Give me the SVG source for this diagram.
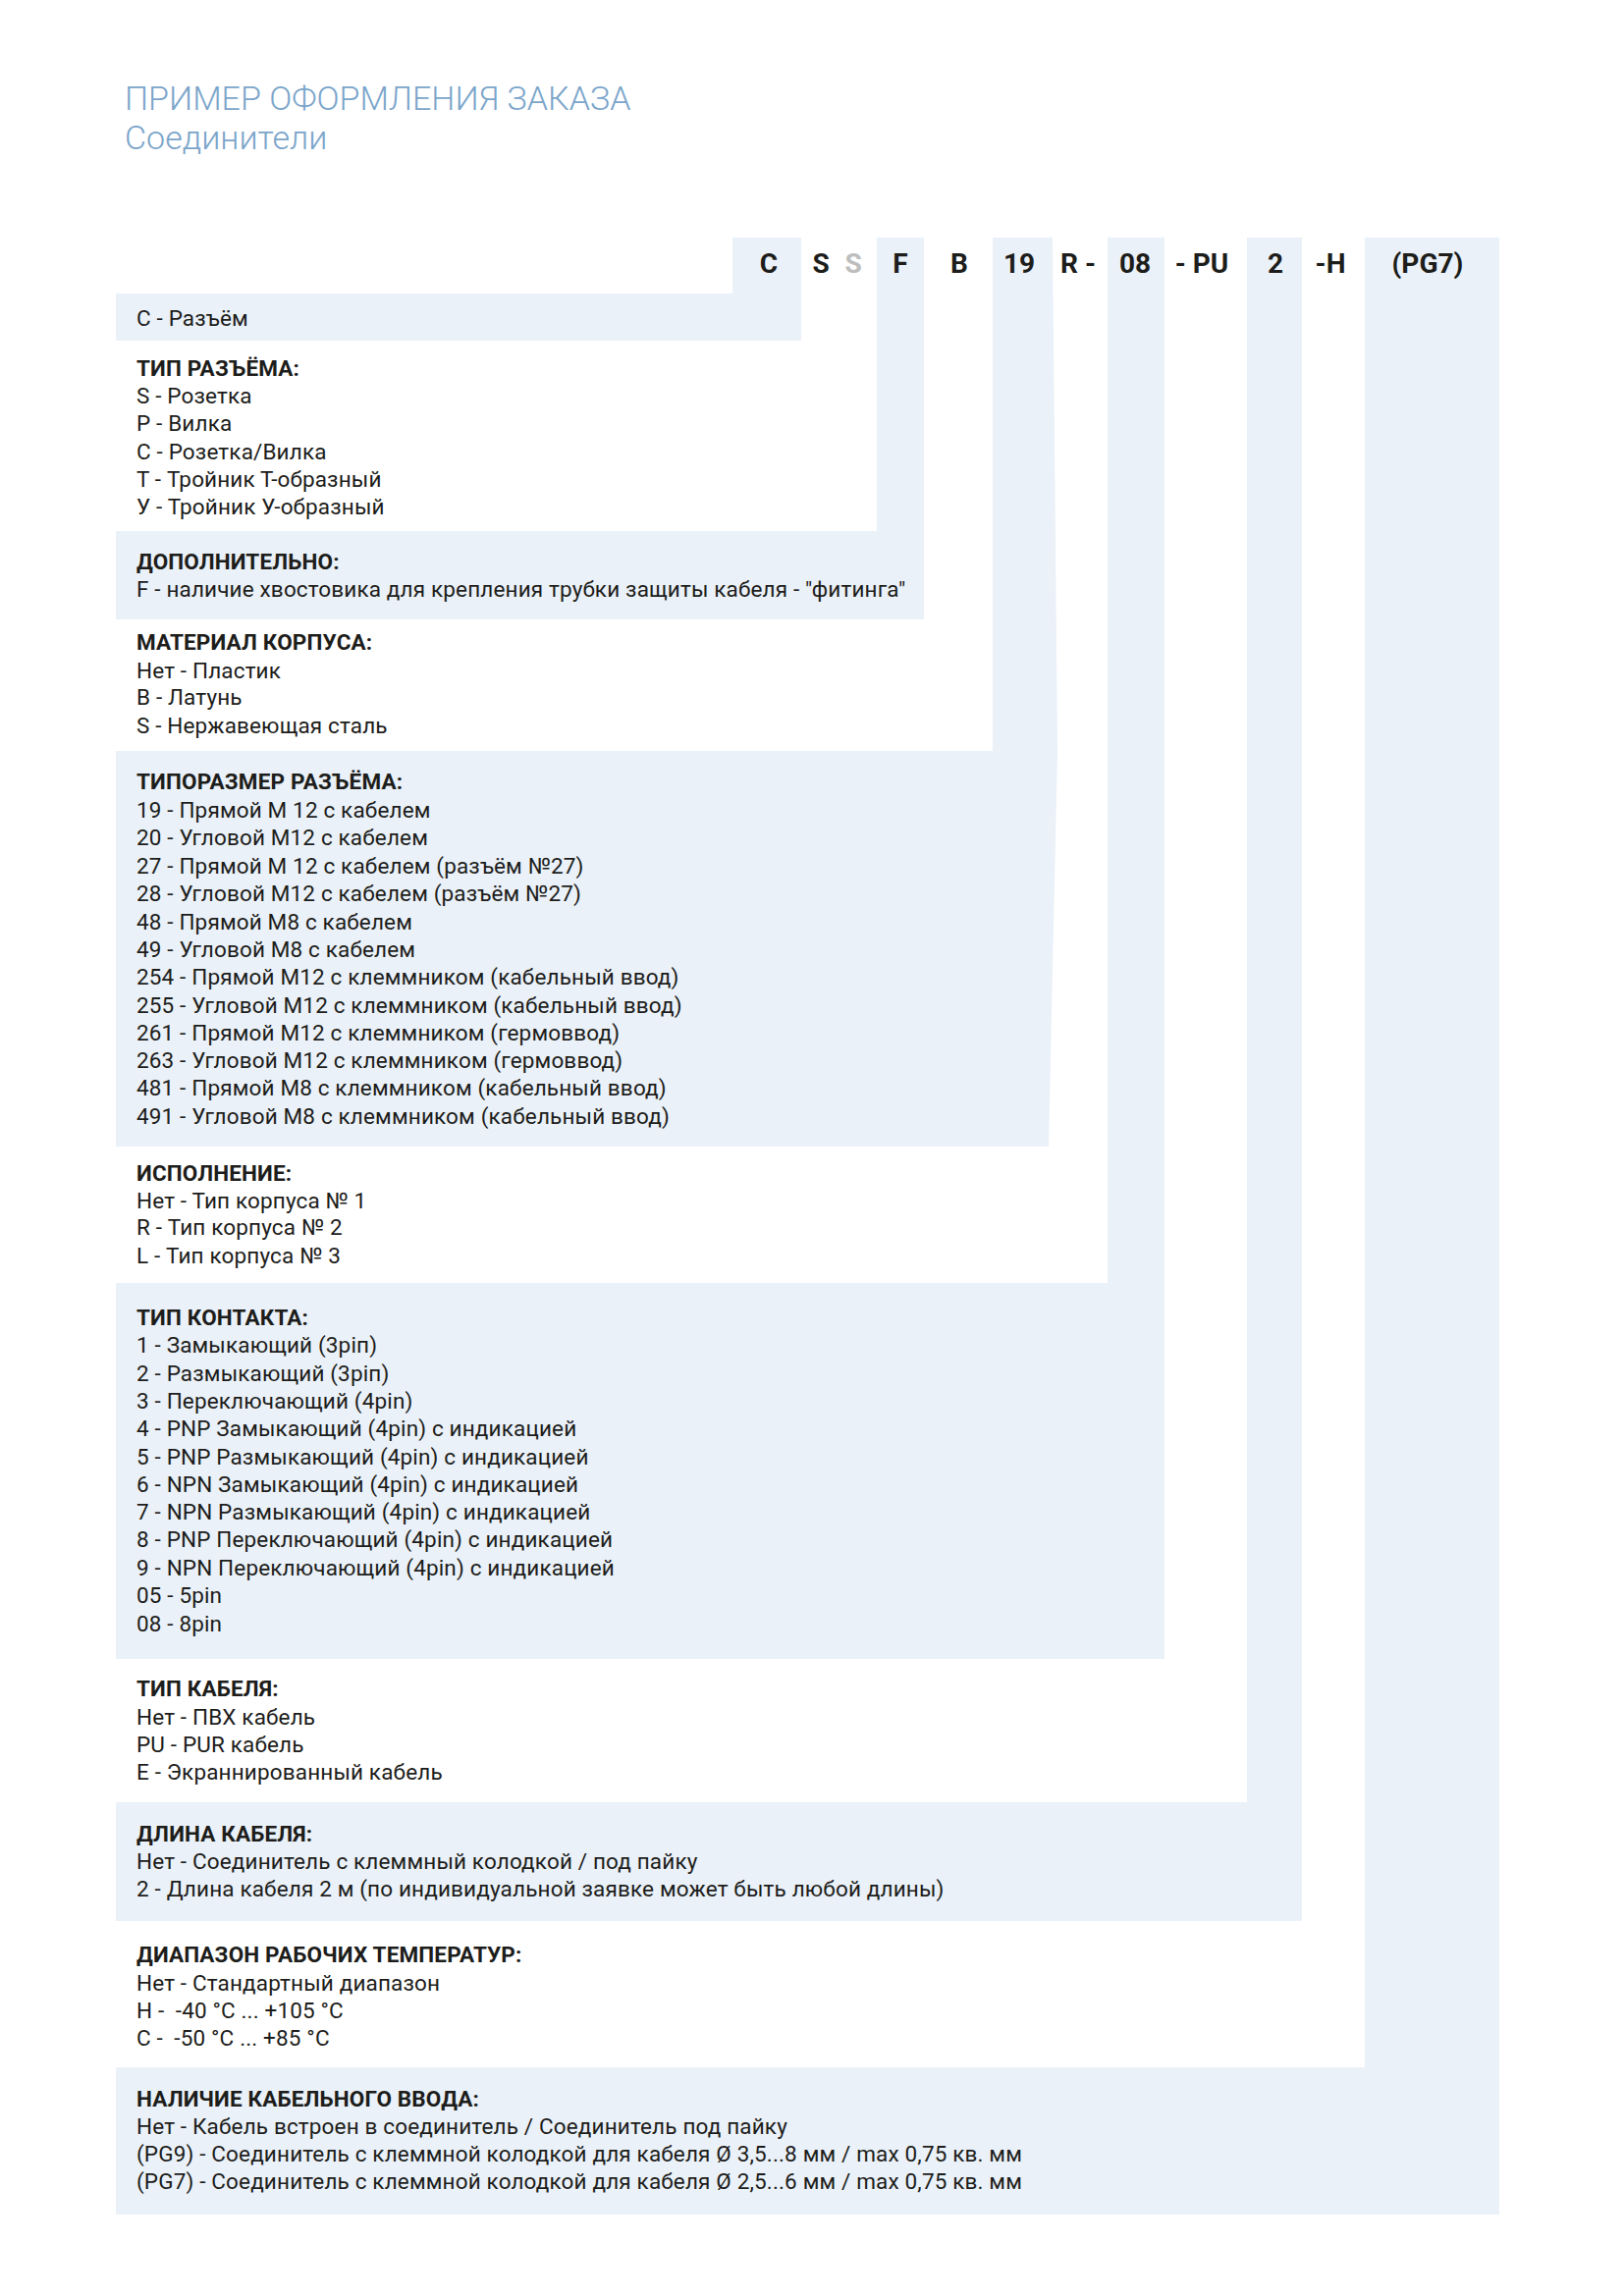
<svg xmlns="http://www.w3.org/2000/svg" width="1654" height="2339" viewBox="0 0 1654 2339">
<style>
.bg{fill:#EAF1F8}
.t{font-family:Roboto,"Liberation Sans",sans-serif;font-size:22.5px;letter-spacing:0.15px;fill:#1d1d1b}
.h{font-family:Roboto,"Liberation Sans",sans-serif;font-size:22.5px;letter-spacing:0.15px;font-weight:700;fill:#1d1d1b}
.code{font-family:Roboto,"Liberation Sans",sans-serif;font-size:28px;font-weight:700;fill:#1d1d1b;text-anchor:middle}
.ttl{font-family:Roboto,"Liberation Sans",sans-serif;font-size:34px;font-weight:300;fill:#7BA5CA}
</style>
<rect width="1654" height="2339" fill="#fff"/>
<g id="title">
<text class="ttl" x="127" y="112">ПРИМЕР ОФОРМЛЕНИЯ ЗАКАЗА</text>
<text class="ttl" x="127" y="152">Соединители</text>
</g>
<g id="bands">
<path class="bg" d="M118,299 H746 V242 H816 V347 H118 Z"/>
<path class="bg" d="M118,541 H893 V242 H941 V631 H118 Z"/>
<path class="bg" d="M118,765 H1011 V242 H1072 L1077,765 L1068,1168 H118 Z"/>
<path class="bg" d="M118,1307 H1128 V242 H1186 V1690 H118 Z"/>
<path class="bg" d="M118,1836 H1270 V242 H1326 V1957 H118 Z"/>
<path class="bg" d="M118,2106 H1390 V242 H1527 V2256 H118 Z"/>
</g>
<g id="code">
<text class="code" x="783" y="278">C</text>
<text class="code" x="836" y="278">S</text>
<text class="code" x="869" y="278" style="fill:#BDBDBD">S</text>
<text class="code" x="917" y="278">F</text>
<text class="code" x="977" y="278">B</text>
<text class="code" x="1038" y="278">19</text>
<text class="code" x="1098" y="278">R -</text>
<text class="code" x="1156" y="278">08</text>
<text class="code" x="1224" y="278">- PU</text>
<text class="code" x="1299" y="278">2</text>
<text class="code" x="1355" y="278">-H</text>
<text class="code" x="1454" y="278">(PG7)</text>
</g>
<g id="sec-connector">
<text class="t" x="139" y="332">С - Разъём</text>
</g>
<g id="sec-type">
<text class="h" x="139" y="383">ТИП РАЗЪЁМА:</text>
<text class="t" x="139" y="411">S - Розетка</text>
<text class="t" x="139" y="439">P - Вилка</text>
<text class="t" x="139" y="468">C - Розетка/Вилка</text>
<text class="t" x="139" y="496">T - Тройник Т-образный</text>
<text class="t" x="139" y="524">У - Тройник У-образный</text>
</g>
<g id="sec-extra">
<text class="h" x="139" y="580">ДОПОЛНИТЕЛЬНО:</text>
<text class="t" x="139" y="608">F - наличие хвостовика для крепления трубки защиты кабеля - "фитинга"</text>
</g>
<g id="sec-material">
<text class="h" x="139" y="662">МАТЕРИАЛ КОРПУСА:</text>
<text class="t" x="139" y="691">Нет - Пластик</text>
<text class="t" x="139" y="718">B - Латунь</text>
<text class="t" x="139" y="747">S - Нержавеющая сталь</text>
</g>
<g id="sec-size">
<text class="h" x="139" y="804">ТИПОРАЗМЕР РАЗЪЁМА:</text>
<text class="t" x="139" y="833">19 - Прямой М 12 с кабелем</text>
<text class="t" x="139" y="861">20 - Угловой М12 с кабелем</text>
<text class="t" x="139" y="890">27 - Прямой М 12 с кабелем (разъём №27)</text>
<text class="t" x="139" y="918">28 - Угловой М12 с кабелем (разъём №27)</text>
<text class="t" x="139" y="947">48 - Прямой М8 с кабелем</text>
<text class="t" x="139" y="975">49 - Угловой М8 с кабелем</text>
<text class="t" x="139" y="1003">254 - Прямой М12 с клеммником (кабельный ввод)</text>
<text class="t" x="139" y="1032">255 - Угловой М12 с клеммником (кабельный ввод)</text>
<text class="t" x="139" y="1060">261 - Прямой М12 с клеммником (гермоввод)</text>
<text class="t" x="139" y="1088">263 - Угловой М12 с клеммником (гермоввод)</text>
<text class="t" x="139" y="1116">481 - Прямой М8 с клеммником (кабельный ввод)</text>
<text class="t" x="139" y="1145">491 - Угловой М8 с клеммником (кабельный ввод)</text>
</g>
<g id="sec-version">
<text class="h" x="139" y="1203">ИСПОЛНЕНИЕ:</text>
<text class="t" x="139" y="1231">Нет - Тип корпуса № 1</text>
<text class="t" x="139" y="1258">R - Тип корпуса № 2</text>
<text class="t" x="139" y="1287">L - Тип корпуса № 3</text>
</g>
<g id="sec-contact">
<text class="h" x="139" y="1350">ТИП КОНТАКТА:</text>
<text class="t" x="139" y="1378">1 - Замыкающий (3piп)</text>
<text class="t" x="139" y="1407">2 - Размыкающий (3piп)</text>
<text class="t" x="139" y="1435">3 - Переключающий (4pin)</text>
<text class="t" x="139" y="1463">4 - PNP Замыкающий (4pin) с индикацией</text>
<text class="t" x="139" y="1492">5 - PNP Размыкающий (4pin) с индикацией</text>
<text class="t" x="139" y="1520">6 - NPN Замыкающий (4pin) с индикацией</text>
<text class="t" x="139" y="1548">7 - NPN Размыкающий (4pin) с индикацией</text>
<text class="t" x="139" y="1576">8 - PNP Переключающий (4pin) с индикацией</text>
<text class="t" x="139" y="1605">9 - NPN Переключающий (4pin) с индикацией</text>
<text class="t" x="139" y="1633">05 - 5pin</text>
<text class="t" x="139" y="1662">08 - 8pin</text>
</g>
<g id="sec-cable">
<text class="h" x="139" y="1728">ТИП КАБЕЛЯ:</text>
<text class="t" x="139" y="1757">Нет - ПВХ кабель</text>
<text class="t" x="139" y="1785">PU - PUR кабель</text>
<text class="t" x="139" y="1813">E - Экраннированный кабель</text>
</g>
<g id="sec-length">
<text class="h" x="139" y="1876">ДЛИНА КАБЕЛЯ:</text>
<text class="t" x="139" y="1904">Нет - Соединитель с клеммный колодкой / под пайку</text>
<text class="t" x="139" y="1932">2 - Длина кабеля 2 м (по индивидуальной заявке может быть любой длины)</text>
</g>
<g id="sec-temp">
<text class="h" x="139" y="1999">ДИАПАЗОН РАБОЧИХ ТЕМПЕРАТУР:</text>
<text class="t" x="139" y="2028">Нет - Стандартный диапазон</text>
<text class="t" x="139" y="2056" xml:space="preserve">H -  -40 °C ... +105 °C</text>
<text class="t" x="139" y="2084" xml:space="preserve">C -  -50 °C ... +85 °C</text>
</g>
<g id="sec-gland">
<text class="h" x="139" y="2146">НАЛИЧИЕ КАБЕЛЬНОГО ВВОДА:</text>
<text class="t" x="139" y="2174">Нет - Кабель встроен в соединитель / Соединитель под пайку</text>
<text class="t" x="139" y="2202">(PG9) - Соединитель с клеммной колодкой для кабеля Ø 3,5...8 мм / max 0,75 кв. мм</text>
<text class="t" x="139" y="2230">(PG7) - Соединитель с клеммной колодкой для кабеля Ø 2,5...6 мм / max 0,75 кв. мм</text>
</g>
</svg>
